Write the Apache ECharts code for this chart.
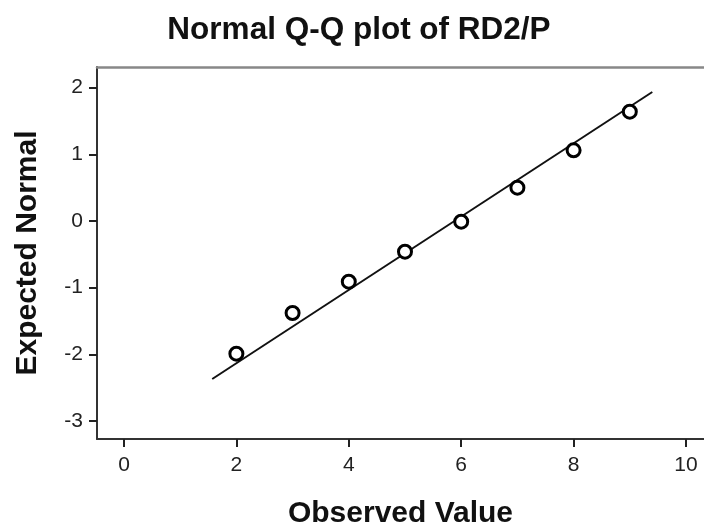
<!DOCTYPE html>
<html>
<head>
<meta charset="utf-8">
<script src="https://cdn.jsdelivr.net/npm/echarts@6/dist/echarts.min.js"></script>
<style>html,body{margin:0;padding:0;background:#fff}#c{width:704px;height:531px}</style>
</head>
<body>
<div id="c"></div>
<script>
var titleText = 'Normal Q-Q plot of RD2/P';
var xName = 'Observed Value';
var yName = 'Expected Normal';
var observed = [2, 3, 4, 5, 6, 7, 8, 9];
var expected = [-1.99, -1.38, -0.91, -0.46, -0.01, 0.50, 1.06, 1.64];
var lineX = [1.57, 9.40];
var lineY = [-2.37, 1.935];
var xTicks = [0, 2, 4, 6, 8, 10];
var yTicks = [-3, -2, -1, 0, 1, 2];

var pts = observed.map(function (v, i) { return [v, expected[i]]; });
var linePts = lineX.map(function (v, i) { return [v, lineY[i]]; });
var FONT = 'Arial, "Liberation Sans", sans-serif';

var chart = echarts.init(document.getElementById('c'), null, {renderer: 'canvas'});
chart.setOption({
  animation: false,
  backgroundColor: '#fff',
  title: {
    text: titleText, left: 354, top: 9, textAlign: 'center',
    textStyle: {fontFamily: FONT, fontSize: 31.5, fontWeight: 'bold', color: '#111'}
  },
  grid: {left: 97, top: 67, right: 0, height: 372, show: false, containLabel: false, outerBoundsMode: 'none'},
  xAxis: [{
    type: 'value', min: -0.48, max: 10.32,
    name: xName, nameLocation: 'middle', nameGap: 60,
    nameTextStyle: {fontFamily: FONT, fontSize: 30, fontWeight: 'bold', color: '#111'},
    axisLine: {show: true, onZero: false, lineStyle: {color: '#333', width: 2}},
    axisTick: {show: true, length: 8, customValues: xTicks, lineStyle: {color: '#222', width: 2}},
    axisLabel: {customValues: xTicks, margin: 16, fontFamily: FONT, fontSize: 21, color: '#222'},
    splitLine: {show: false}
  }, {
    type: 'value', position: 'top', min: -0.48, max: 10.32,
    axisLine: {show: true, onZero: false, lineStyle: {color: '#888', width: 2.5}},
    axisTick: {show: false}, axisLabel: {show: false}, splitLine: {show: false}
  }],
  yAxis: {
    type: 'value', min: -3.27, max: 2.31,
    name: yName, nameLocation: 'middle', nameGap: 54,
    nameTextStyle: {fontFamily: FONT, fontSize: 30, fontWeight: 'bold', color: '#111'},
    axisLine: {show: true, onZero: false, lineStyle: {color: '#333', width: 2}},
    axisTick: {show: true, length: 8, customValues: yTicks, lineStyle: {color: '#222', width: 2}},
    axisLabel: {customValues: yTicks, margin: 14, fontFamily: FONT, fontSize: 21, color: '#222'},
    splitLine: {show: false}
  },
  series: [
    {
      type: 'line', data: linePts, showSymbol: false, symbol: 'none',
      lineStyle: {color: '#111', width: 2}, silent: true, z: 2
    },
    {
      type: 'scatter', data: pts, symbol: 'circle', symbolSize: 13,
      itemStyle: {color: '#fff', borderColor: '#000', borderWidth: 3, opacity: 1}, z: 3
    }
  ]
});
</script>
</body>
</html>
